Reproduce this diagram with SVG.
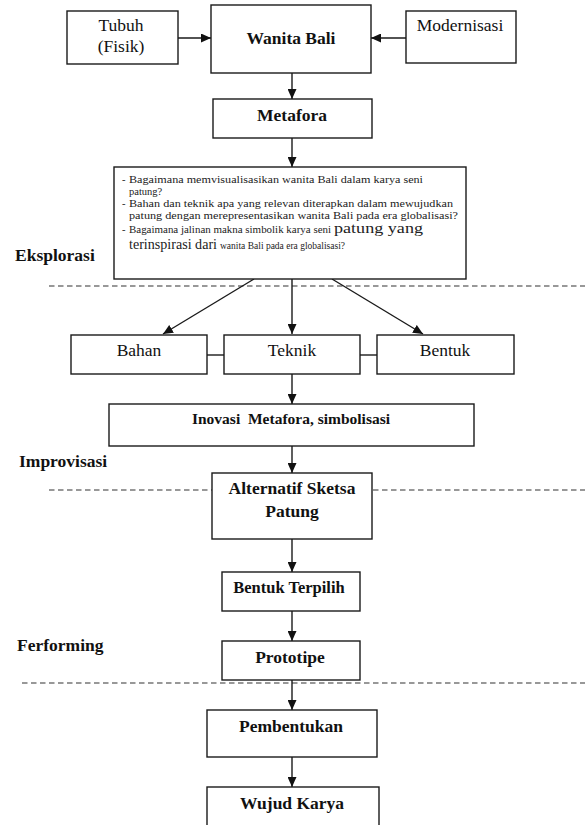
<svg xmlns="http://www.w3.org/2000/svg" width="585" height="825" viewBox="0 0 585 825">
<defs>
<marker id="ah" markerWidth="10" markerHeight="9" refX="10" refY="4.5" orient="auto" markerUnits="userSpaceOnUse">
<path d="M0,0 L10,4.5 L0,9 z" fill="#111"/>
</marker>
</defs>
<style>
.box{fill:#fff;stroke:#1a1a1a;stroke-width:1.4}
.t{font-family:"Liberation Serif","Times New Roman",serif;font-size:17.5px;fill:#111;text-anchor:middle}
.b{font-weight:bold}
.lbl{font-family:"Liberation Serif","Times New Roman",serif;font-size:17.5px;font-weight:bold;fill:#111}
.q{font-family:"Liberation Serif","Times New Roman",serif;font-size:10.5px;fill:#222}
.ql{font-family:"Liberation Serif","Times New Roman",serif;font-size:14px;fill:#222}
.c{fill:none;stroke:#1a1a1a;stroke-width:1.4}
.a{fill:none;stroke:#1a1a1a;stroke-width:1.4;marker-end:url(#ah)}
.d{fill:none;stroke:#333;stroke-width:1.1;stroke-dasharray:5.5 3.5}
</style>
<rect width="585" height="825" fill="#fff"/>
<g id="dividers">
<line class="d" x1="49" y1="286" x2="585" y2="286"/>
<line class="d" x1="49" y1="490" x2="585" y2="490"/>
<line class="d" x1="22" y1="683" x2="585" y2="683"/>
</g>
<g id="phase-labels">
<text class="lbl" x="15" y="261">Eksplorasi</text>
<text class="lbl" x="19" y="467">Improvisasi</text>
<text class="lbl" x="17" y="651">Ferforming</text>
</g>
<g id="connectors">
<line class="a" x1="178" y1="38" x2="211" y2="38"/>
<line class="a" x1="406" y1="38" x2="371" y2="38"/>
<line class="a" x1="292" y1="73" x2="292" y2="99"/>
<line class="a" x1="292" y1="138" x2="292" y2="167"/>
<line class="a" x1="254" y1="279" x2="163" y2="334"/>
<line class="a" x1="292" y1="279" x2="292" y2="334"/>
<line class="a" x1="332" y1="279" x2="423" y2="334"/>
<line class="c" x1="207" y1="355" x2="224" y2="355"/>
<line class="c" x1="360" y1="355" x2="377" y2="355"/>
<line class="a" x1="292" y1="374" x2="292" y2="404"/>
<line class="a" x1="292" y1="446" x2="292" y2="473"/>
<line class="a" x1="292" y1="539" x2="292" y2="572"/>
<line class="a" x1="292" y1="611" x2="292" y2="641"/>
<line class="a" x1="292" y1="680" x2="292" y2="710"/>
<line class="a" x1="292" y1="757" x2="292" y2="787"/>
</g>
<g id="tubuh">
<rect class="box" x="67" y="11" width="111" height="53"/>
<text class="t" x="121" y="31">Tubuh</text>
<text class="t" x="121" y="52">(Fisik)</text>
</g>
<g id="wanita-bali">
<rect class="box" x="211" y="5" width="160" height="68"/>
<text class="t b" x="291" y="44">Wanita Bali</text>
</g>
<g id="modernisasi">
<rect class="box" x="406" y="11" width="110" height="52"/>
<text class="t" x="460" y="31">Modernisasi</text>
</g>
<g id="metafora">
<rect class="box" x="213" y="99" width="159" height="39"/>
<text class="t b" x="292" y="121">Metafora</text>
</g>
<g id="pertanyaan">
<rect class="box" x="114" y="167" width="352" height="112"/>
<text class="q" x="122" y="183">-</text>
<text class="q" x="129" y="183" textLength="294" lengthAdjust="spacingAndGlyphs">Bagaimana memvisualisasikan wanita Bali dalam karya seni</text>
<text class="q" x="129" y="195">patung?</text>
<text class="q" x="122" y="207">-</text>
<text class="q" x="129" y="207" textLength="324" lengthAdjust="spacingAndGlyphs">Bahan dan teknik apa yang relevan diterapkan dalam mewujudkan</text>
<text class="q" x="129" y="219" textLength="329" lengthAdjust="spacingAndGlyphs">patung dengan merepresentasikan wanita Bali pada era globalisasi?</text>
<text class="q" x="122" y="233">-</text>
<text class="q" x="129" y="233" textLength="202" lengthAdjust="spacingAndGlyphs">Bagaimana jalinan makna simbolik karya seni</text>
<text class="ql" x="334" y="233" textLength="89" lengthAdjust="spacingAndGlyphs">patung yang</text>
<text class="ql" x="129" y="249" textLength="88" lengthAdjust="spacingAndGlyphs">terinspirasi dari</text>
<text class="q" x="220" y="249" textLength="125" lengthAdjust="spacingAndGlyphs">wanita Bali pada era globalisasi?</text>
</g>
<g id="bahan">
<rect class="box" x="71" y="335" width="136" height="39"/>
<text class="t" x="139" y="356">Bahan</text>
</g>
<g id="teknik">
<rect class="box" x="224" y="335" width="136" height="39"/>
<text class="t" x="292" y="356">Teknik</text>
</g>
<g id="bentuk">
<rect class="box" x="377" y="335" width="137" height="39"/>
<text class="t" x="445" y="356">Bentuk</text>
</g>
<g id="inovasi">
<rect class="box" x="109" y="404" width="365" height="42"/>
<text class="t b" x="291" y="424" style="font-size:15.5px;white-space:pre" xml:space="preserve">Inovasi  Metafora, simbolisasi</text>
</g>
<g id="alternatif">
<rect class="box" x="212" y="473" width="160" height="66"/>
<text class="t b" x="292" y="494">Alternatif Sketsa</text>
<text class="t b" x="292" y="517">Patung</text>
</g>
<g id="bentuk-terpilih">
<rect class="box" x="222" y="572" width="138" height="39"/>
<text class="t b" x="289" y="593" style="font-size:16.5px">Bentuk Terpilih</text>
</g>
<g id="prototipe">
<rect class="box" x="222" y="641" width="138" height="39"/>
<text class="t b" x="290" y="663">Prototipe</text>
</g>
<g id="pembentukan">
<rect class="box" x="207" y="710" width="170" height="47"/>
<text class="t b" x="291" y="732">Pembentukan</text>
</g>
<g id="wujud-karya">
<rect class="box" x="207" y="787" width="172" height="50"/>
<text class="t b" x="292" y="809">Wujud Karya</text>
</g>
</svg>
